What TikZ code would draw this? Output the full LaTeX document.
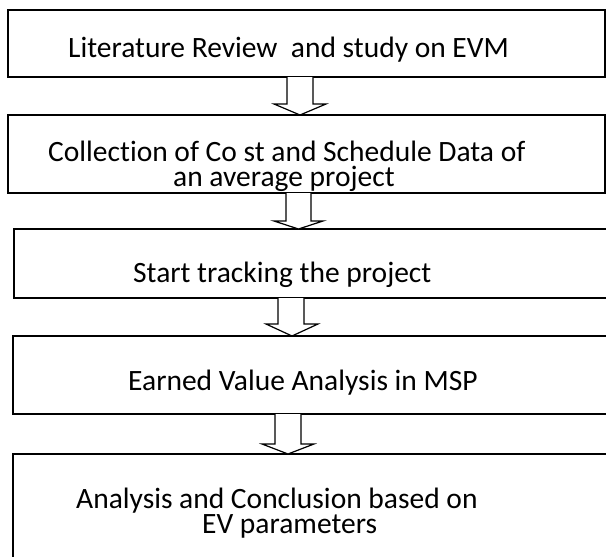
\documentclass[tikz,border=0pt]{standalone}
\usepackage{fontspec}
\setmainfont[Ligatures=NoCommon]{Carlito}
\begin{document}
\begin{tikzpicture}[x=1pt,y=-1pt,
  boxstyle/.style={draw=black, line width=1.2pt, fill=white, inner sep=0pt},
  txt/.style={inner sep=0pt, anchor=base west, align=left, font=\fontsize{29.5}{25}\selectfont},
  blockarrow/.style={draw=black, line width=1.2pt, fill=white, line join=miter}]
\useasboundingbox[fill=white] (0,0) rectangle (606,557);
% boxes
\node[boxstyle, minimum width=597pt, minimum height=67pt] (b1) at (306.5,43.5) {};
\node[boxstyle, minimum width=597pt, minimum height=78pt] (b2) at (306.5,154) {};
\node[boxstyle, minimum width=598pt, minimum height=69pt] (b3) at (313,263.5) {};
\node[boxstyle, minimum width=599pt, minimum height=78pt] (b4) at (312.5,375) {};
\node[boxstyle, minimum width=599pt, minimum height=116pt] (b5) at (312.5,512) {};
% texts
\node[txt] (t1) at (68,57) {Literature Review\ \ and study on EVM};
\node[txt] (t2) at (48,186) {Collection of Co st and Schedule Data of\\\hspace*{125pt}an average project};
\node[txt] (t3) at (133,282) {Start tracking the project};
\node[txt] (t4) at (128,390) {Earned Value Analysis in MSP};
\node[txt] (t5) at (76,533) {Analysis and Conclusion based on\\\hspace*{126pt}EV parameters};
% block arrows
\draw[blockarrow] (287,77) -- (287,104) -- (274,104) -- (300,115) -- (326,104) -- (313,104) -- (313,77);
\draw[blockarrow] (286,193) -- (286,221) -- (274,221) -- (298.5,229) -- (323,221) -- (311,221) -- (311,193);
\draw[blockarrow] (278,298) -- (278,324) -- (266,324) -- (292,336) -- (318,324) -- (304,324) -- (304,298);
\draw[blockarrow] (275,414) -- (275,444) -- (262,444) -- (288,454) -- (314,444) -- (301,444) -- (301,414);
\end{tikzpicture}
\end{document}
